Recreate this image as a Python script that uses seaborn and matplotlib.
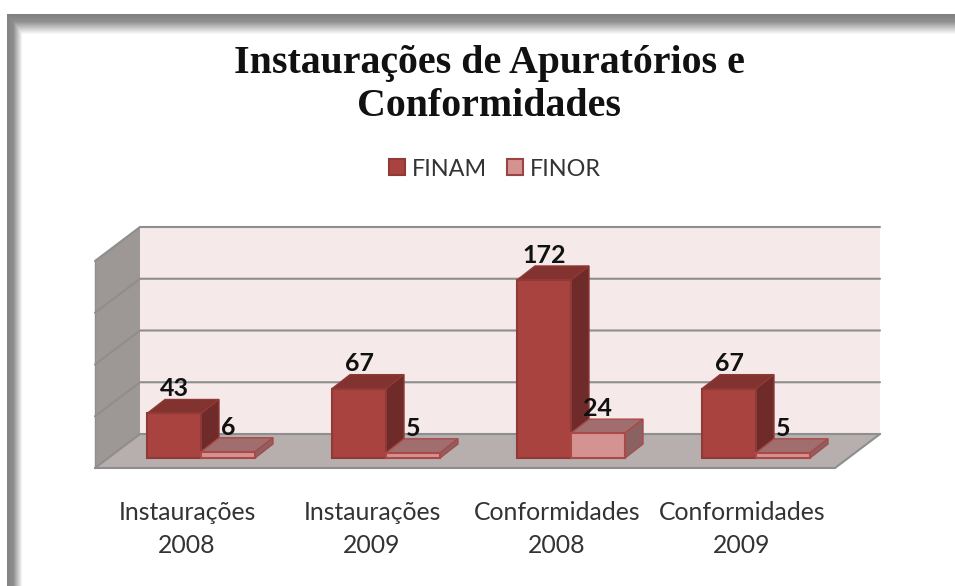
import matplotlib
matplotlib.use('Agg')

import numpy as np
import pandas as pd
import matplotlib.pyplot as plt
import seaborn as sns
from matplotlib.patches import Polygon

# --- dados ---
categorias = ['Instaurações\n2008', 'Instaurações\n2009', 'Conformidades\n2008', 'Conformidades\n2009']
finam = [43, 67, 172, 67]
finor = [6, 5, 24, 5]
grade = [0, 50, 100, 150, 200]

df = pd.DataFrame({
    'categoria': categorias * 2,
    'valor': finam + finor,
    'fundo': ['FINAM'] * 4 + ['FINOR'] * 4,
})

# --- estetica ---
sns.set_theme(style='white')
plt.rcParams['font.family'] = ['Lato', 'DejaVu Sans']

W, H = 955, 586
PX_X = 185.0   # pixels por categoria
PX_Y = 1.035   # pixels por unidade
X0, Y0 = 201, 458  # pixel da categoria 0 / valor 0
AX_BOTTOM = 472


def dx(p):
    return p / PX_X


def dy(p):
    return p / PX_Y


fig = plt.figure(figsize=(W / 100, H / 100), dpi=100, facecolor='white')

# moldura com sombra
bg = fig.add_axes([0, 0, 1, 1], zorder=0)
xx, yy = np.meshgrid(np.arange(W), np.arange(H))
fx = np.interp(xx, [7, 13, 22], [0.52, 0.56, 1.0])
fy = np.interp(yy, [14, 21, 34], [0.50, 0.56, 1.0])
frame = np.minimum(fx, fy)
frame[(xx < 7) | (yy < 14)] = 1.0
bg.imshow(frame, cmap='gray', vmin=0, vmax=1, aspect='auto', interpolation='bilinear')
bg.axis('off')

ax = fig.add_axes([0, 1 - AX_BOTTOM / H, 1, AX_BOTTOM / H], zorder=1)
ax.patch.set_alpha(0)

sns.barplot(
    data=df, x='categoria', y='valor', hue='fundo', ax=ax,
    palette=['#A9433F', '#D49391'], saturation=1, width=108 / 185, gap=0,
    edgecolor='#8F3A37', linewidth=1.5, zorder=5,
)

ax.set_xlim(-X0 / PX_X, (W - X0) / PX_X)
ax.set_ylim(dy(Y0 - AX_BOTTOM), dy(Y0))

# --- paredes e piso ---
bx0, bx1 = dx(140 - X0), dx(880 - X0)
by0 = dy(24)
sx, sy = dx(-45), dy(-34)
cor_grade = '#8E8E8E'

ax.add_patch(Polygon([(bx0, by0), (bx1, by0), (bx1, by0 + grade[-1]), (bx0, by0 + grade[-1])],
                     fc='#F5E9E9', ec='none', zorder=1))
ax.add_patch(Polygon([(bx0 + sx, by0 + sy), (bx0, by0), (bx0, by0 + grade[-1]), (bx0 + sx, by0 + sy + grade[-1])],
                     fc='#9D9896', ec='none', zorder=1))
ax.add_patch(Polygon([(bx0 + sx, by0 + sy), (bx0, by0), (bx1, by0), (bx1 + sx, by0 + sy)],
                     fc='#B7AEAE', ec='none', zorder=1))
for v in grade:
    ax.plot([bx0 + sx, bx0, bx1], [by0 + sy + v, by0 + v, by0 + v], color=cor_grade, lw=1.5, zorder=2,
            solid_joinstyle='miter')
ax.plot([bx0 + sx, bx1 + sx, bx1], [by0 + sy, by0 + sy, by0], color=cor_grade, lw=1.5, zorder=2)
ax.plot([bx0 + sx, bx0 + sx], [by0 + sy, by0 + sy + grade[-1]], color=cor_grade, lw=1, zorder=2)

# --- extrusao das barras (profundidade 3D) ---
ddx, ddy = dx(18), dy(14)
estilos = [
    {'topo': '#82322F', 'lado': '#6E2B29', 'borda': '#8F3A37', 'z': 3},
    {'topo': '#A06E6E', 'lado': '#8B6262', 'borda': '#A94A48', 'z': 4},
]
for cont, est in zip(ax.containers, estilos):
    for bar in cont:
        x, w, h = bar.get_x(), bar.get_width(), bar.get_height()
        bar.set_edgecolor(est['borda'])
        ax.add_patch(Polygon([(x, h), (x + ddx, h + ddy), (x + w + ddx, h + ddy), (x + w, h)],
                             fc=est['topo'], ec=est['borda'], lw=1, zorder=est['z']))
        ax.add_patch(Polygon([(x + w, 0), (x + w + ddx, ddy), (x + w + ddx, h + ddy), (x + w, h)],
                             fc=est['lado'], ec=est['borda'], lw=1, zorder=est['z']))
    ax.bar_label(cont, padding=9.5, fontsize=18, fontweight='bold', color='#111111', zorder=8)

# --- eixos ---
sns.despine(ax=ax, left=True, bottom=True)
ax.set_xlabel('')
ax.set_ylabel('')
ax.set_yticks([])
ax.set_xticks(np.arange(len(categorias)) - dx(14))
ax.set_xticklabels(categorias, fontsize=17.8, color='#333333', linespacing=1.5)
ax.tick_params(axis='x', length=0, pad=21)

# --- legenda ---
sns.move_legend(
    ax, loc='center', bbox_to_anchor=(495 / W, 1 - 169 / H), bbox_transform=fig.transFigure,
    ncol=2, frameon=False, title=None, fontsize=16.8, handlelength=0.68, handleheight=0.68,
    handletextpad=0.3, columnspacing=0.85,
)
for h, borda in zip(ax.get_legend().legend_handles, ['#8F3A37', '#9A4543']):
    h.set_edgecolor(borda)
    h.set_linewidth(1.5)
for t in ax.get_legend().get_texts():
    t.set_color('#333333')

# --- titulo ---
fig.text(489 / W, 1 - 85 / H, 'Instaurações de Apuratórios e\nConformidades', ha='center', va='center',
         fontsize=28.7, fontweight='bold', family='Liberation Serif', color='#111111', linespacing=1.2)

fig.savefig('out.png', dpi=100)
